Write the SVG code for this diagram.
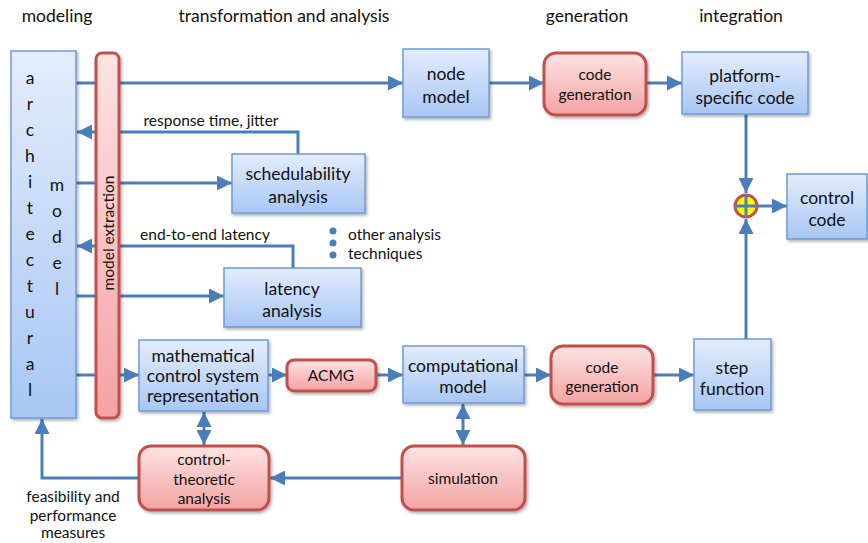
<svg xmlns="http://www.w3.org/2000/svg" width="868" height="543" viewBox="0 0 868 543">
<defs>
<linearGradient id="gb" x1="0" y1="0" x2="0" y2="1"><stop offset="0" stop-color="#e3edfc"/><stop offset="1" stop-color="#a8c6f4"/></linearGradient>
<linearGradient id="gr" x1="0" y1="0" x2="0" y2="1"><stop offset="0" stop-color="#fde3e3"/><stop offset="1" stop-color="#f3a3a2"/></linearGradient>
<filter id="sh" x="-10%" y="-10%" width="130%" height="130%"><feDropShadow dx="1.5" dy="2" stdDeviation="1.5" flood-color="#000" flood-opacity="0.3"/></filter>
<marker id="ah" viewBox="0 0 10 10" refX="10" refY="5" markerWidth="5" markerHeight="5" markerUnits="strokeWidth" orient="auto-start-reverse"><path d="M0,0 L10,5 L0,10 z" fill="#4a7ebb"/></marker>
<style>
text{font-family:Lato,"Open Sans","Liberation Sans",sans-serif;fill:#111;text-anchor:middle;dominant-baseline:central}
.b{fill:url(#gb);stroke:#6f9bd3;stroke-width:1.5;filter:url(#sh)}
.r{fill:url(#gr);stroke:#c0504d;stroke-width:3;filter:url(#sh)}
.t{font-size:17.5px}
.s{font-size:15.5px}
.m{font-size:15.5px}
.h{font-size:17.5px}
.c{fill:none;stroke:#4a7ebb;stroke-width:3}
.a{marker-end:url(#ah)}
.d{marker-start:url(#ah);marker-end:url(#ah)}
</style>
</defs>
<g id="headers">
<text class="h" x="57" y="15">modeling</text>
<text class="h" x="284" y="15">transformation and analysis</text>
<text class="h" x="587" y="15">generation</text>
<text class="h" x="741" y="15">integration</text>
</g>
<g id="connectors">
<path class="c a" d="M76,83 H403"/>
<path class="c a" d="M298,154 V132 H77"/>
<path class="c a" d="M76,183 H232"/>
<path class="c a" d="M293,268 V246 H77"/>
<path class="c a" d="M76,296 H224"/>
<path class="c a" d="M76,375 H139"/>
<path class="c a" d="M489,83 H544"/>
<path class="c a" d="M646,83 H682"/>
<path class="c a" d="M746,114 V193"/>
<path class="c a" d="M746,339 V219"/>
<path class="c a" d="M758,206 H787"/>
<path class="c a" d="M268,375 H287"/>
<path class="c a" d="M376,375 H403"/>
<path class="c a" d="M524,375 H551"/>
<path class="c a" d="M653,375 H694"/>
<path class="c d" d="M463,404 V445"/>
<path class="c d" d="M204,412 V445"/>
<path class="c a" d="M402,478 H270"/>
<path class="c a" d="M139,478 H42 V419"/>
<text class="m" x="211" y="120">response time, jitter</text>
<text class="m" x="205" y="234">end-to-end latency</text>
<text class="m" x="73" y="496">feasibility and</text>
<text class="m" x="73" y="515">performance</text>
<text class="m" x="73" y="532">measures</text>
</g>
<g id="architectural-model">
<rect class="b" x="11" y="51" width="65" height="367"/>
<text class="t" x="30" y="77">a</text><text class="t" x="30" y="103">r</text><text class="t" x="30" y="129">c</text><text class="t" x="30" y="155">h</text><text class="t" x="30" y="181">i</text><text class="t" x="30" y="207">t</text><text class="t" x="30" y="233">e</text><text class="t" x="30" y="259">c</text><text class="t" x="30" y="285">t</text><text class="t" x="30" y="311">u</text><text class="t" x="30" y="337">r</text><text class="t" x="30" y="363">a</text><text class="t" x="30" y="389">l</text>
<text class="t" x="57" y="184">m</text><text class="t" x="57" y="210">o</text><text class="t" x="57" y="236">d</text><text class="t" x="57" y="262">e</text><text class="t" x="57" y="288">l</text>
</g>
<g id="model-extraction">
<rect class="r" x="96" y="53" width="23" height="365" rx="6"/>
<text class="m" transform="translate(107.5,233) rotate(-90)">model extraction</text>
</g>
<g id="node-model"><rect class="b" x="403" y="49" width="86" height="68"/><text class="t" x="446" y="73">node</text><text class="t" x="446" y="96">model</text></g>
<g id="code-generation-1"><rect class="r" x="544" y="53" width="102" height="62" rx="12"/><text class="s" x="595" y="74">code</text><text class="s" x="595" y="94">generation</text></g>
<g id="platform-specific-code"><rect class="b" x="682" y="52" width="126" height="62"/><text class="t" x="745" y="75">platform-</text><text class="t" x="745" y="97">specific code</text></g>
<g id="junction"><circle cx="746" cy="206" r="11" fill="#ffff00" stroke="#c0504d" stroke-width="3"/><path d="M735,206 H757 M746,195 V217" stroke="#4a7ebb" stroke-width="3"/></g>
<g id="control-code"><rect class="b" x="787" y="174" width="80" height="65"/><text class="t" x="827" y="197">control</text><text class="t" x="827" y="219">code</text></g>
<g id="schedulability-analysis"><rect class="b" x="232" y="154" width="133" height="59"/><text class="t" x="298" y="173">schedulability</text><text class="t" x="298" y="196">analysis</text></g>
<g id="other-techniques"><circle cx="333" cy="231" r="3.5" fill="#4a7ebb"/><circle cx="333" cy="243" r="3.5" fill="#4a7ebb"/><circle cx="333" cy="255" r="3.5" fill="#4a7ebb"/><text class="m" x="348" y="234" style="text-anchor:start">other analysis</text><text class="m" x="348" y="253" style="text-anchor:start">techniques</text></g>
<g id="latency-analysis"><rect class="b" x="224" y="268" width="137" height="59"/><text class="t" x="292" y="288">latency</text><text class="t" x="292" y="310">analysis</text></g>
<g id="math-representation"><rect class="b" x="139" y="340" width="129" height="71"/><text class="t" x="203" y="355">mathematical</text><text class="t" x="203" y="375">control system</text><text class="t" x="203" y="395">representation</text></g>
<g id="acmg"><rect class="r" x="287" y="360" width="89" height="31" rx="7"/><text class="s" x="331" y="375">ACMG</text></g>
<g id="computational-model"><rect class="b" x="403" y="346" width="121" height="57"/><text class="t" x="463" y="365">computational</text><text class="t" x="463" y="386">model</text></g>
<g id="code-generation-2"><rect class="r" x="551" y="346" width="102" height="58" rx="12"/><text class="s" x="602" y="367">code</text><text class="s" x="602" y="386">generation</text></g>
<g id="step-function"><rect class="b" x="694" y="339" width="77" height="71"/><text class="t" x="732" y="367">step</text><text class="t" x="732" y="388">function</text></g>
<g id="simulation"><rect class="r" x="402" y="446" width="123" height="64" rx="12"/><text class="s" x="463" y="478">simulation</text></g>
<g id="control-theoretic-analysis"><rect class="r" x="139" y="446" width="130" height="64" rx="12"/><text class="s" x="204" y="459">control-</text><text class="s" x="204" y="479">theoretic</text><text class="s" x="204" y="498">analysis</text></g>
</svg>
